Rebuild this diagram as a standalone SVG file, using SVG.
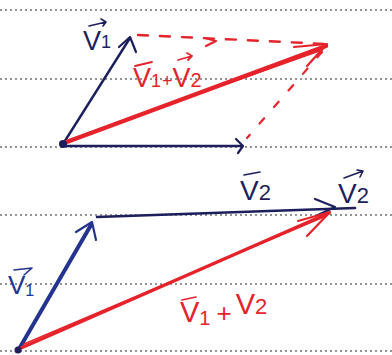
<svg xmlns="http://www.w3.org/2000/svg" width="392" height="355" viewBox="0 0 392 355">
<style>
.rule{stroke:#6f6f6f;stroke-width:1.3;stroke-dasharray:2 3;fill:none}
.navy{stroke:#1c1f5c;fill:none;stroke-linecap:round;stroke-linejoin:round}
.blue{stroke:#23338f;fill:none;stroke-linecap:round;stroke-linejoin:round}
.red{stroke:#e6232b;fill:none;stroke-linecap:round;stroke-linejoin:round}
.lbl{font-family:"Liberation Sans","DejaVu Sans",sans-serif;font-weight:normal}
.tn{fill:#1c1f5c}
.tb{fill:#23338f}
.tr{fill:#e6232b}
</style>
<rect width="392" height="355" fill="#ffffff"/>
<g id="page-rules">
<line class="rule" x1="0" y1="10" x2="392" y2="10"/>
<line class="rule" x1="0" y1="79" x2="392" y2="79"/>
<line class="rule" x1="0" y1="147" x2="392" y2="147"/>
<line class="rule" x1="0" y1="215" x2="392" y2="215"/>
<line class="rule" x1="0" y1="284" x2="392" y2="284"/>
<line class="rule" x1="0" y1="351" x2="392" y2="351"/>
</g>
<g id="connectors">
<path class="navy" stroke-width="2.4" d="M63 144 L130 38"/>
<path class="navy" stroke-width="2.2" d="M119 47 L130 37 L136 52"/>
<path class="navy" stroke-width="2.6" d="M63 146 L242 146"/>
<path class="navy" stroke-width="2.2" d="M236 139 L243 146 L238 153"/>
<path class="red" stroke-width="2.4" stroke-dasharray="10 12" d="M138 35 L327 44"/>
<path class="red" stroke-width="2.2" d="M205 38 L216 41 L206 46"/>
<path class="red" stroke-width="2.2" stroke-dasharray="7 15" d="M322 52 L247 138"/>
<path class="red" stroke-width="4.5" d="M64 143 L326 46"/>
<path class="red" stroke-width="1.5" d="M66 141 L322 50"/>
<path class="red" stroke-width="2.2" d="M294 47 L327 44 L307 66"/>
<circle cx="63" cy="144" r="4" fill="#1c1f5c"/>
<path class="blue" stroke-width="4" d="M19 349 L91 225"/>
<path class="blue" stroke-width="2.2" d="M76 232 L92 222 L96 240"/>
<path class="navy" stroke-width="2.6" d="M97 217 L355 208"/>
<path class="navy" stroke-width="2.2" d="M315 199 L335 207 L318 215"/>
<path class="red" stroke-width="3.5" d="M21 348 L329 213"/>
<path class="red" stroke-width="1.4" d="M24 344 L326 216"/>
<path class="red" stroke-width="2.2" d="M298 221 L330 212 L307 236"/>
<circle cx="18" cy="350" r="3.5" fill="#1c1f5c"/>
</g>
<g id="label-top-v1">
<text class="lbl tn" x="83" y="50" font-size="27">V<tspan font-size="18" dy="-2">1</tspan></text>
<path class="navy" stroke-width="1.6" d="M89 26 L106 22 M101 19 L106 22 L103 26"/>
</g>
<g id="label-top-sum">
<text class="lbl tr" x="133" y="87" font-size="27">V<tspan font-size="18">1</tspan><tspan font-size="18" dx="1">+</tspan>V<tspan font-size="20">2</tspan></text>
<path class="red" stroke-width="1.8" d="M135 66 L152 62"/>
<path class="red" stroke-width="1.8" d="M178 60 L192 56 M187 53 L192 56 L188 60"/>
</g>
<g id="label-bottom-v2-mid">
<text class="lbl tn" x="240" y="200" font-size="28">V<tspan font-size="22">2</tspan></text>
<path class="navy" stroke-width="1.6" d="M244 175 L260 172"/>
</g>
<g id="label-bottom-v2-right">
<text class="lbl tn" x="338" y="203" font-size="28">V<tspan font-size="22">2</tspan></text>
<path class="navy" stroke-width="1.6" d="M344 178 L363 171 M357 170 L363 171 L360 177"/>
</g>
<g id="label-bottom-v1">
<text class="lbl tb" x="8" y="294" font-size="26">V<tspan font-size="16" dy="2">1</tspan></text>
<path class="blue" stroke-width="1.6" d="M14 270 L32 268 L24 275"/>
</g>
<g id="label-bottom-sum">
<text class="lbl tr" x="180" y="322" font-size="29">V<tspan font-size="20" dy="3">1</tspan><tspan dx="6" dy="-3" font-size="26">+</tspan><tspan dx="4" dy="-8">V</tspan><tspan font-size="22">2</tspan></text>
<path class="red" stroke-width="1.6" d="M182 300 L196 297"/>
</g>
</svg>
